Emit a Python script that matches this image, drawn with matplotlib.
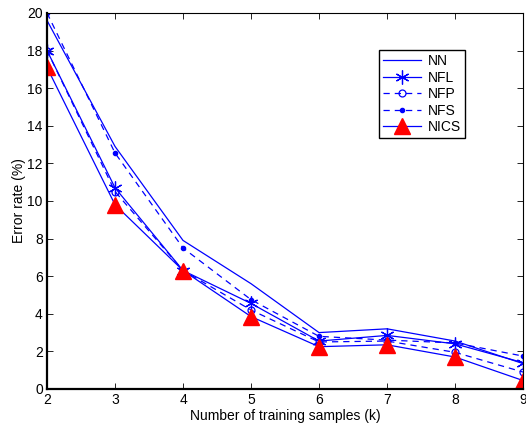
import matplotlib
matplotlib.use("Agg")
import matplotlib.pyplot as plt

# training samples per class
k = [2, 3, 4, 5, 6, 7, 8, 9]

# error rates (%)
nn   = [19.6, 12.9, 7.9, 5.6, 3.0, 3.2, 2.55, 1.35]
nfl  = [18.0, 10.7, 6.3, 4.55, 2.55, 2.85, 2.4, 1.4]
nfp  = [18.0, 10.5, 6.3, 4.2, 2.5, 2.55, 1.95, 0.9]
nfs  = [20.0, 12.55, 7.5, 4.75, 2.8, 2.6, 2.45, 1.75]
nics = [17.1, 9.8, 6.3, 3.85, 2.25, 2.35, 1.7, 0.45]

plt.rcParams["font.family"] = ["Liberation Sans", "DejaVu Sans"]
plt.rcParams["font.size"] = 10

fig = plt.figure(figsize=(5.26, 4.23), dpi=100)
ax = fig.add_axes([0.0894, 0.0804, 0.905, 0.889])

blue = (0, 0, 1)
lw = 0.9
dash = (0, (5, 4))

ax.plot(k, nn, color=blue, lw=lw, label="NN")
ax.plot(k, nfl, color=blue, lw=lw, marker=(6, 2, 0), ms=10, mew=0.9, label="NFL")
ax.plot(k, nfp, color=blue, lw=lw, ls=dash, marker="o", ms=5, mfc="none", mew=0.9, label="NFP")
ax.plot(k, nfs, color=blue, lw=lw, ls=dash, marker=".", ms=6, label="NFS")
ax.plot(k, nics, color=blue, lw=lw, marker="^", ms=11, mfc="red", mec="red", label="NICS")

ax.set_xlim(2, 9)
ax.set_ylim(0, 20)
ax.set_xticks(k)
ax.set_yticks(range(0, 21, 2))
ax.tick_params(direction="in", top=True, right=True, length=4, width=0.6, pad=3)
for s in ax.spines.values():
    s.set_linewidth(0.8)
ax.spines["left"].set_linewidth(1.6)
ax.spines["bottom"].set_linewidth(1.6)

ax.set_xlabel("Number of training samples (k)", labelpad=1.5)
ax.set_ylabel("Error rate (%)", labelpad=1)

leg = ax.legend(loc="upper left", bbox_to_anchor=(0.683, 0.92), fancybox=False,
                framealpha=1, edgecolor="black", handlelength=2.7, borderpad=0.3,
                labelspacing=0.18, handletextpad=0.5, fontsize=10)
leg.get_frame().set_linewidth(1.0)

fig.savefig("out.png", dpi=100)
